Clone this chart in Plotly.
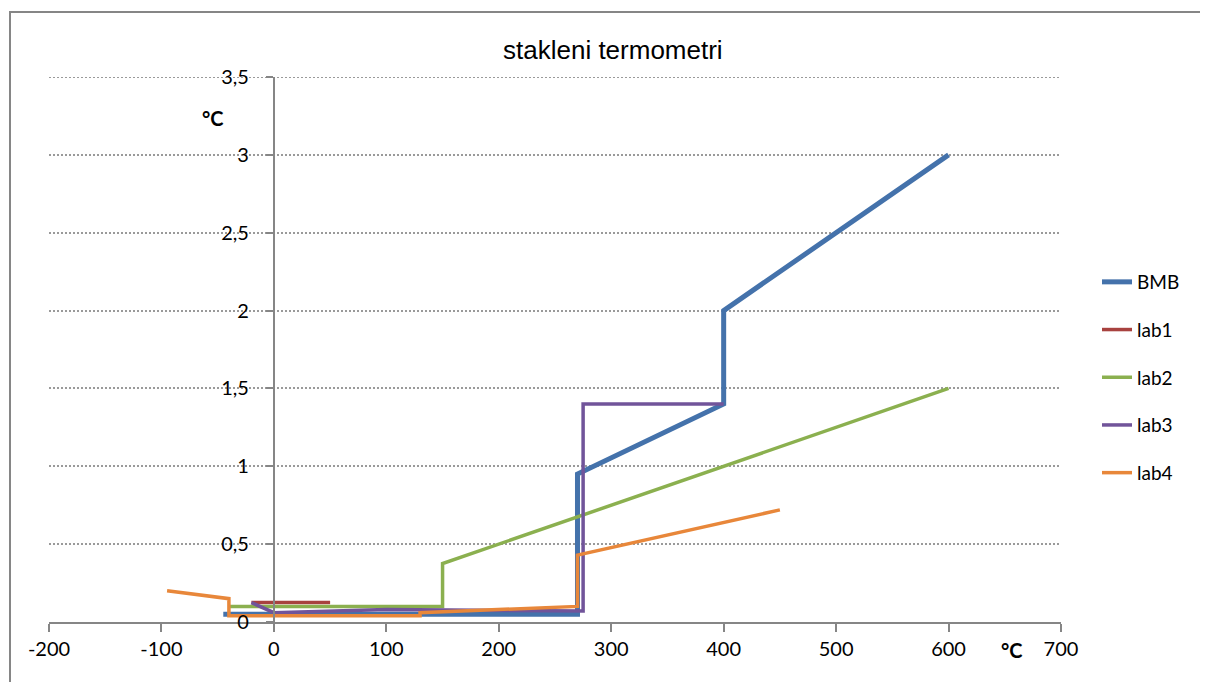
import plotly.graph_objects as go

# Data
bmb_x = [-45, 270, 270, 400, 400, 600]
bmb_y = [0.05, 0.05, 0.95, 1.4, 2.0, 3.0]

lab1_x = [-20, 50]
lab1_y = [0.125, 0.125]

lab2_x = [-40, 150, 150, 600]
lab2_y = [0.1, 0.1, 0.375, 1.5]

lab3_x = [-20, 0, 100, 275, 275, 400]
lab3_y = [0.125, 0.06, 0.08, 0.07, 1.4, 1.4]

lab4_x = [-95, -40, -40, 130, 130, 270, 270, 450]
lab4_y = [0.2, 0.15, 0.04, 0.04, 0.06, 0.1, 0.43, 0.72]

series = [
    ("BMB", bmb_x, bmb_y, "#4472AB", 5),
    ("lab1", lab1_x, lab1_y, "#A8423F", 3.5),
    ("lab2", lab2_x, lab2_y, "#8BB04F", 3.5),
    ("lab3", lab3_x, lab3_y, "#71549A", 3.5),
    ("lab4", lab4_x, lab4_y, "#E8873A", 3.5),
]

x_ticks = [-200, -100, 0, 100, 200, 300, 400, 500, 600, 700]
y_ticks = [0, 0.5, 1, 1.5, 2, 2.5, 3, 3.5]
y_labels = ["0", "0,5", "1", "1,5", "2", "2,5", "3", "3,5"]
y_max = 3.5

fig = go.Figure()
for name, xs, ys, color, w in series:
    fig.add_trace(go.Scatter(
        x=xs, y=ys, mode="lines", name=name, legendgroup=name,
        line=dict(color=color, width=w),
    ))

# page body adds an 8px offset; work in reference-pixel coordinates
OFF = 8
W, H = 1208 - OFF, 682 - OFF
L, R = 49 - OFF, 1208 - 1061
T, B = 77 - OFF, 682 - 622
pw = W - L - R
ph = H - T - B

def px(xp):
    return (xp - OFF - L) / pw

def py(yp):
    return (H - B - (yp - OFF)) / ph

axis_color = "#868686"
grid_color = "#9a9a9a"
tick_font = dict(family="Lato, Carlito, sans-serif", size=20, color="#000000")

fig.update_layout(
    width=W, height=H,
    margin=dict(l=L, r=R, t=T, b=B),
    paper_bgcolor="white", plot_bgcolor="white",
    separators=", ",
    showlegend=True,
    legend=dict(
        x=px(1097), y=py(263), xanchor="left", yanchor="top",
        font=dict(family="Lato, Carlito, sans-serif", size=19, color="#000000"),
        tracegroupgap=20, bgcolor="rgba(0,0,0,0)",
    ),
    xaxis=dict(
        range=[-200, 700], tickvals=x_ticks,
        ticktext=[str(v) for v in x_ticks],
        showgrid=False, zeroline=False,
        showline=True, linecolor=axis_color, linewidth=2,
        ticks="outside", ticklen=8, tickwidth=2, tickcolor=axis_color,
        tickfont=tick_font, anchor="y",
    ),
    yaxis=dict(
        range=[0, y_max], tickvals=y_ticks, ticktext=y_labels,
        showgrid=True, gridcolor=grid_color, gridwidth=2, griddash="2px,2px",
        zeroline=False,
        showline=True, linecolor=axis_color, linewidth=2,
        ticks="outside", ticklen=7, tickwidth=2, tickcolor=axis_color,
        tickfont=tick_font, ticklabelstandoff=13,
        anchor="free", position=(0 - (-200)) / 900,
    ),
    shapes=[
        dict(type="rect", xref="paper", yref="paper",
             x0=px(10), x1=px(1240), y0=py(12), y1=py(720),
             line=dict(color=axis_color, width=2), fillcolor="rgba(0,0,0,0)"),
        dict(type="line", xref="paper", yref="y", layer="below",
             x0=0, x1=1, y0=y_max, y1=y_max,
             line=dict(color=grid_color, width=2, dash="2px,2px")),
    ],
    annotations=[
        dict(text="stakleni termometri", xref="paper", yref="paper",
             x=px(613), y=py(50), xanchor="center", yanchor="middle",
             showarrow=False,
             font=dict(family="Liberation Sans, Arial, sans-serif", size=26, color="#000000")),
        dict(text="<b>°C</b>", xref="paper", yref="paper",
             x=px(213), y=py(118), xanchor="center", yanchor="middle",
             showarrow=False,
             font=dict(family="Lato, Carlito, sans-serif", size=20, color="#000000")),
        dict(text="<b>°C</b>", xref="paper", yref="paper",
             x=px(1012), y=py(650), xanchor="center", yanchor="middle",
             showarrow=False,
             font=dict(family="Lato, Carlito, sans-serif", size=20, color="#000000")),
    ],
)

fig.write_html("out.html")
